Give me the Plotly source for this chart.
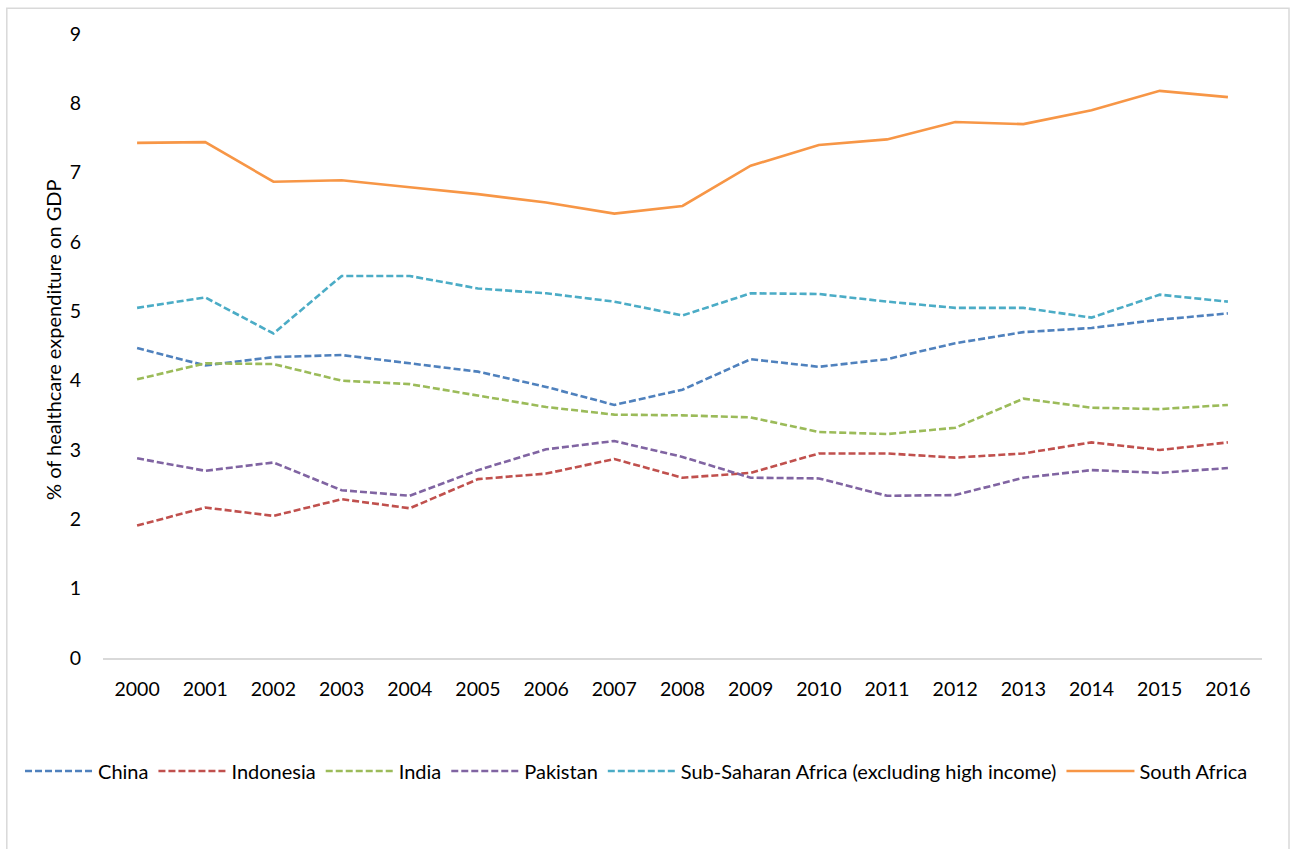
import plotly.graph_objects as go

# Health expenditure as a share of GDP, 2000-2016
years = list(range(2000, 2017))

china = [4.47, 4.22, 4.34, 4.37, 4.25, 4.13, 3.91, 3.65, 3.87, 4.31, 4.20, 4.31, 4.54, 4.70, 4.76, 4.88, 4.97]
indonesia = [1.91, 2.17, 2.05, 2.29, 2.16, 2.58, 2.66, 2.87, 2.60, 2.67, 2.95, 2.95, 2.89, 2.95, 3.11, 3.00, 3.11]
india = [4.02, 4.25, 4.24, 4.00, 3.95, 3.79, 3.62, 3.51, 3.50, 3.47, 3.26, 3.23, 3.32, 3.74, 3.61, 3.59, 3.65]
pakistan = [2.88, 2.70, 2.82, 2.42, 2.34, 2.71, 3.01, 3.13, 2.90, 2.60, 2.59, 2.34, 2.35, 2.60, 2.71, 2.67, 2.74]
ssa = [5.05, 5.20, 4.68, 5.51, 5.51, 5.33, 5.26, 5.14, 4.94, 5.26, 5.25, 5.14, 5.05, 5.05, 4.91, 5.24, 5.14]
south_africa = [7.43, 7.44, 6.87, 6.89, 6.79, 6.69, 6.57, 6.41, 6.52, 7.10, 7.40, 7.48, 7.73, 7.70, 7.90, 8.18, 8.09]

series = [
    ("China", china, "#4F81BD", "7px,3px"),
    ("Indonesia", indonesia, "#C0504D", "7px,3px"),
    ("India", india, "#9BBB59", "7px,3px"),
    ("Pakistan", pakistan, "#8064A2", "7px,3px"),
    ("Sub-Saharan Africa (excluding high income)", ssa, "#4BACC6", "7px,3px"),
    ("South Africa", south_africa, "#F79646", "solid"),
]

FONT = "Lato"
SIZE = 20

fig = go.Figure()
for name, vals, color, dash in series:
    fig.add_trace(go.Scatter(
        x=years, y=vals, name=name, mode="lines",
        line=dict(color=color, width=2.6, dash=dash),
    ))

fig.update_layout(
    width=1292, height=849,
    margin=dict(l=103, r=30, t=34, b=191),
    paper_bgcolor="white", plot_bgcolor="white",
    font=dict(family=FONT, size=SIZE, color="#000000"),
    showlegend=True,
    legend=dict(
        orientation="h", x=-0.0716, xanchor="left", y=-0.181, yanchor="middle",
        font=dict(family=FONT, size=SIZE, color="#000000"),
        itemwidth=68, bgcolor="rgba(0,0,0,0)",
    ),
    xaxis=dict(
        range=[1999.5, 2016.5], tickmode="array", tickvals=years,
        ticktext=[str(y) for y in years],
        showgrid=False, zeroline=False, showline=True,
        linecolor="#D9D9D9", linewidth=1.5, ticks="",
        ticklabelstandoff=13,
        tickfont=dict(family=FONT, size=19.5, color="#000000"),
    ),
    yaxis=dict(
        range=[0, 9], tickmode="linear", tick0=0, dtick=1,
        showgrid=False, zeroline=False, showline=False, ticks="",
        ticklabelstandoff=21,
        tickfont=dict(family=FONT, size=19.5, color="#000000"),
    ),
    annotations=[dict(
        text="% of healthcare expenditure on GDP",
        xref="paper", yref="paper", x=-0.043, y=0.51,
        xanchor="center", yanchor="middle", textangle=-90, showarrow=False,
        font=dict(family=FONT, size=SIZE, color="#000000"),
    )],
    shapes=[dict(
        type="rect", xref="paper", yref="paper",
        x0=-0.083, x1=1.0233, y0=-0.33, y1=1.0413,
        line=dict(color="#D9D9D9", width=1.5), fillcolor="rgba(0,0,0,0)", layer="below",
    )],
)

fig.write_html("out.html")
